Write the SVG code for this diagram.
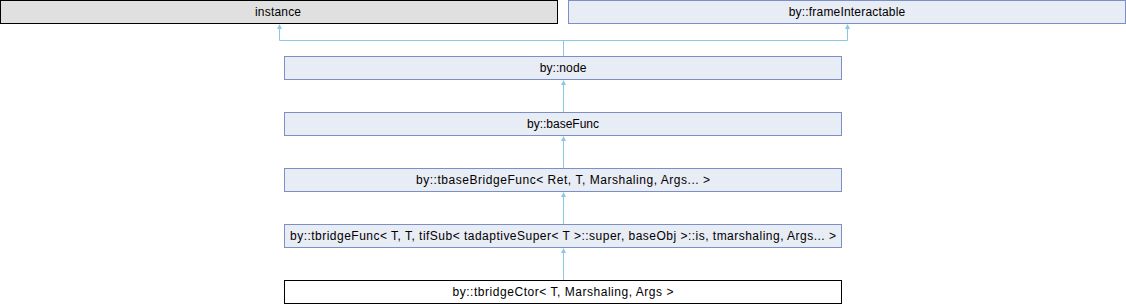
<svg xmlns="http://www.w3.org/2000/svg" width="1126" height="304" viewBox="0 0 1126 304">
<style>
rect.doc{fill:#E8ECF5;stroke:#7B91C6;stroke-width:1}
rect.ext{fill:#E0E0E0;stroke:#000000;stroke-width:1}
rect.cur{fill:#FFFFFF;stroke:#000000;stroke-width:1}
text{font-family:"Liberation Sans",Arial,sans-serif;font-size:12px;fill:#000000;text-anchor:middle}
.edge{fill:none;stroke:#8EC8E8;stroke-width:1}
.head{fill:#8EC8E8;stroke:none}
</style>
<defs>
<path id="ah" d="M0,0 L2.5,5 L-2.5,5 Z"/>
</defs>
<g id="connectors">
<path class="edge" d="M279.5,29 V40.5 H847.5 V29"/>
<path class="edge" d="M563.5,40.5 V56"/>
<use href="#ah" class="head" x="279.5" y="24"/>
<use href="#ah" class="head" x="847.5" y="24"/>
<path class="edge" d="M563.5,85 V112"/>
<use href="#ah" class="head" x="563.5" y="80"/>
<path class="edge" d="M563.5,141 V168"/>
<use href="#ah" class="head" x="563.5" y="136"/>
<path class="edge" d="M563.5,197 V224"/>
<use href="#ah" class="head" x="563.5" y="192"/>
<path class="edge" d="M563.5,253 V280"/>
<use href="#ah" class="head" x="563.5" y="248"/>
</g>
<g id="instance">
<rect class="ext" x="0.5" y="0.5" width="557" height="23"/>
<text x="278" y="16" textLength="46">instance</text>
</g>
<g id="frameInteractable">
<rect class="doc" x="568.5" y="0.5" width="557" height="23"/>
<text x="847" y="16" textLength="116.5">by::frameInteractable</text>
</g>
<g id="node">
<rect class="doc" x="284.5" y="56.5" width="557" height="23"/>
<text x="563" y="72" textLength="46.7">by::node</text>
</g>
<g id="baseFunc">
<rect class="doc" x="284.5" y="112.5" width="557" height="23"/>
<text x="563" y="128">by::baseFunc</text>
</g>
<g id="tbaseBridgeFunc">
<rect class="doc" x="284.5" y="168.5" width="557" height="23"/>
<text x="563" y="184" textLength="294">by::tbaseBridgeFunc&lt; Ret, T, Marshaling, Args... &gt;</text>
</g>
<g id="tbridgeFunc">
<rect class="doc" x="284.5" y="224.5" width="557" height="23"/>
<text x="563" y="240" textLength="546">by::tbridgeFunc&lt; T, T, tifSub&lt; tadaptiveSuper&lt; T &gt;::super, baseObj &gt;::is, tmarshaling, Args... &gt;</text>
</g>
<g id="tbridgeCtor">
<rect class="cur" x="284.5" y="280.5" width="557" height="23"/>
<text x="563" y="296" textLength="221">by::tbridgeCtor&lt; T, Marshaling, Args &gt;</text>
</g>
</svg>
